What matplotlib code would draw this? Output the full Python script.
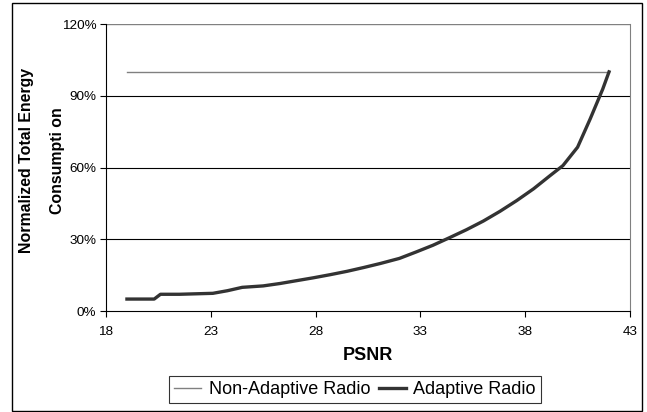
import matplotlib
matplotlib.use("Agg")
import matplotlib.pyplot as plt
from matplotlib.patches import Rectangle
from matplotlib.ticker import FuncFormatter

plt.rcParams['font.family'] = ['Liberation Sans', 'DejaVu Sans']

# data
psnr_adaptive = [19.0, 20.3, 20.6, 21.5, 23.1, 23.8, 24.5, 25.5, 26.3, 27.1, 27.9,
                 28.7, 29.5, 30.3, 31.1, 32.0, 32.8, 33.6, 34.4, 35.2, 36.0,
                 36.8, 37.6, 38.4, 39.2, 39.8, 40.5, 41.1, 41.7, 42.0]
energy_adaptive = [5.0, 5.0, 7.0, 7.0, 7.4, 8.5, 9.9, 10.5, 11.5, 12.7, 13.9,
                   15.2, 16.6, 18.2, 19.9, 22.0, 24.7, 27.5, 30.7, 34.0, 37.6,
                   41.7, 46.2, 51.1, 56.7, 60.8, 68.5, 80.3, 92.8, 100.0]
psnr_nonadaptive = [19.0, 42.0]
energy_nonadaptive = [100.0, 100.0]

fig = plt.figure(figsize=(6.47, 4.12), dpi=100)
ax = fig.add_axes([0.1638, 0.2451, 0.8099, 0.6966])

ax.plot(psnr_nonadaptive, energy_nonadaptive, color="#808080", linewidth=1.0,
        label="Non-Adaptive Radio")
ax.plot(psnr_adaptive, energy_adaptive, color="#333333", linewidth=2.4,
        label="Adaptive Radio")

ax.set_xlim(18, 43)
ax.set_ylim(0, 120)
ax.set_xticks([18, 23, 28, 33, 38, 43])
ax.set_yticks([0, 30, 60, 90, 120])
ax.yaxis.set_major_formatter(FuncFormatter(lambda v, p: "%d%%" % v))
ax.tick_params(labelsize=9.7, length=4, direction="out", color="black")
ax.tick_params(axis="x", pad=7)
ax.tick_params(axis="y", pad=3)

for v in [30, 60, 90]:
    ax.axhline(v, color="black", linewidth=0.8, zorder=0)
ax.axhline(120, color="#808080", linewidth=1.0, zorder=0)

ax.spines["top"].set_visible(False)
ax.spines["right"].set_color("#808080")
ax.spines["left"].set_color("black")
ax.spines["bottom"].set_color("black")

ax.set_xlabel("PSNR", fontsize=13, fontweight="bold", labelpad=6)
ax.set_ylabel("Normalized Total Energy\nConsumpti on", fontsize=11.4,
              fontweight="heavy", linespacing=2.35, multialignment="center")
ax.yaxis.set_label_coords(-0.078, 0.525)

leg = ax.legend(loc="center", bbox_to_anchor=(0.4755, -0.2735), ncol=2, fontsize=13,
                frameon=True, fancybox=False, edgecolor="black", handlelength=1.5,
                columnspacing=0.5, handletextpad=0.4, borderpad=0.3,
                borderaxespad=0)
leg.get_frame().set_linewidth(0.8)

fig.patches.append(Rectangle((0.0185, 0.003), 0.9735, 0.99, transform=fig.transFigure,
                             fill=False, edgecolor="black", linewidth=1.0))

fig.savefig("out.png", dpi=100)
